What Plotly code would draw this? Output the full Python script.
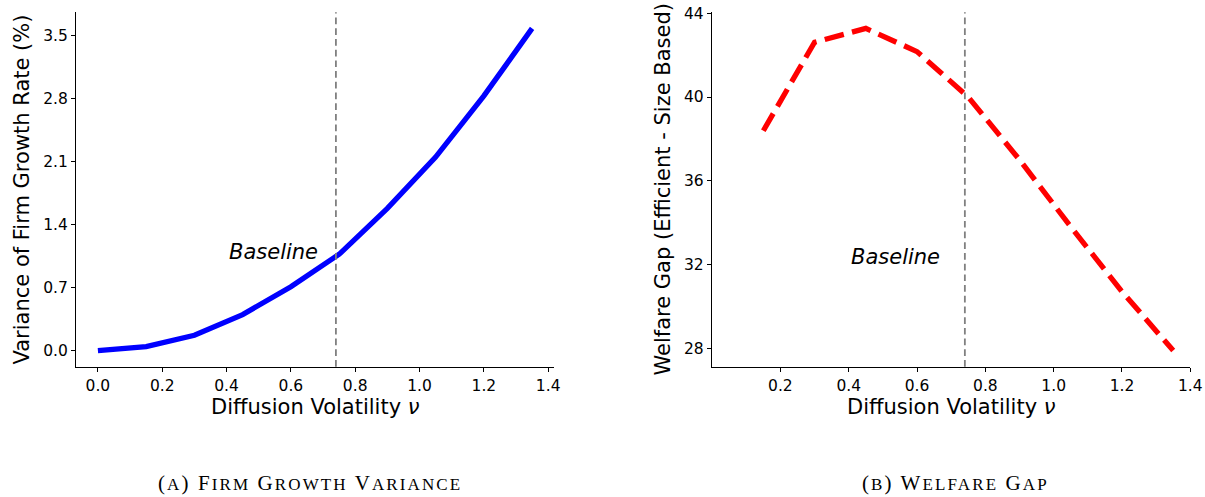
import plotly.graph_objects as go

# Diffusion volatility grid shared by both panels
nu = [0.0, 0.15, 0.30, 0.45, 0.60, 0.75, 0.90, 1.05, 1.20, 1.35]

# Panel (a): variance of firm growth rate (%)
growth_var = [0.0, 0.044, 0.17, 0.40, 0.71, 1.07, 1.58, 2.15, 2.83, 3.58]

# Panel (b): welfare gap (efficient - size based), defined from nu = 0.15 on
nu_gap = [0.15, 0.30, 0.45, 0.60, 0.75, 0.90, 1.05, 1.20, 1.35]
welfare_gap = [38.39, 42.62, 43.28, 42.17, 40.0, 37.0, 33.8, 30.7, 27.88]

baseline_nu = 0.74

left_ticks = [0.0, 0.2, 0.4, 0.6, 0.8, 1.0, 1.2, 1.4]
right_ticks = [0.2, 0.4, 0.6, 0.8, 1.0, 1.2, 1.4]
var_ticks = [0.0, 0.7, 1.4, 2.1, 2.8, 3.5]
gap_ticks = [28, 32, 36, 40, 44]

captions = ["(a) Firm Growth Variance", "(b) Welfare Gap"]

W, H = 1205, 497
TICK_FONT = dict(family="DejaVu Sans", size=15.5, color="black")
LABEL_FONT = dict(family="DejaVu Sans", size=21, color="black")
CAP_FONT = dict(family="Liberation Serif", size=21, color="black")


def small_caps(text, small=17, spacing=2.1):
    """Typeset text in small capitals: lowercase letters become reduced capitals."""
    out = []
    for ch in text:
        if ch.islower():
            out.append(f'<span style="font-size:{small}px">{ch.upper()}</span>')
        else:
            out.append(ch)
    return f'<span style="letter-spacing:{spacing}px">' + "".join(out) + "</span>"


fig = go.Figure()

fig.add_trace(go.Scatter(
    x=nu, y=growth_var, mode="lines", xaxis="x", yaxis="y",
    line=dict(color="#0000ff", width=5.3), showlegend=False,
))
fig.add_trace(go.Scatter(
    x=nu_gap, y=welfare_gap, mode="lines", xaxis="x2", yaxis="y2",
    line=dict(color="#ff0000", width=5.3, dash="19.7px,8.5px"), showlegend=False,
))

ydom = [1 - 366.7 / H, 1 - 12.3 / H]
common = dict(
    showline=True, linecolor="black", linewidth=1, mirror=False,
    ticks="outside", ticklen=4.3, tickwidth=1, tickcolor="black",
    showgrid=False, zeroline=False, tickfont=TICK_FONT, automargin=False,
)

fig.update_layout(
    width=W, height=H,
    margin=dict(l=0, r=0, t=0, b=0),
    paper_bgcolor="white", plot_bgcolor="white",
    xaxis=dict(domain=[76.2 / W, 553.8 / W], range=[-0.0675, 1.4175],
               tickvals=left_ticks, tickformat=".1f", anchor="y", **common),
    yaxis=dict(domain=ydom, range=[-0.179, 3.759],
               tickvals=var_ticks, tickformat=".1f", anchor="x", **common),
    xaxis2=dict(domain=[712.1 / W, 1190.3 / W], range=[0.0, 1.4],
                tickvals=right_ticks, tickformat=".1f", anchor="y2", **common),
    yaxis2=dict(domain=ydom, range=[27.11, 44.05],
                tickvals=gap_ticks, tickformat="d", anchor="x2", **common),
)

# Baseline markers
for xr, yr in (("x", "y domain"), ("x2", "y2 domain")):
    fig.add_shape(type="line", xref=xr, yref=yr, x0=baseline_nu, x1=baseline_nu,
                  y0=0, y1=1, line=dict(color="#808080", width=1.8, dash="6.7px,4px"))

fig.add_annotation(x=0.4, y=1.09, xref="x", yref="y", text="<i>Baseline</i>",
                   showarrow=False, xanchor="left", yanchor="middle", font=LABEL_FONT)
fig.add_annotation(x=0.4, y=32.37, xref="x2", yref="y2", text="<i>Baseline</i>",
                   showarrow=False, xanchor="left", yanchor="middle", font=LABEL_FONT)

# Axis titles
fig.add_annotation(x=0.5, y=1 - 406.7 / H, xref="x domain", yref="paper",
                   text="Diffusion Volatility <i>ν</i>", showarrow=False,
                   xanchor="center", yanchor="middle", font=LABEL_FONT)
fig.add_annotation(x=0.5, y=1 - 406.7 / H, xref="x2 domain", yref="paper",
                   text="Diffusion Volatility <i>ν</i>", showarrow=False,
                   xanchor="center", yanchor="middle", font=LABEL_FONT)
fig.add_annotation(x=22 / W, y=0.5, xref="paper", yref="y domain",
                   text="Variance of Firm Growth Rate (%)", textangle=-90,
                   showarrow=False, xanchor="center", yanchor="middle", font=LABEL_FONT)
fig.add_annotation(x=663 / W, y=0.5, xref="paper", yref="y2 domain",
                   text="Welfare Gap (Efficient - Size Based)", textangle=-90,
                   showarrow=False, xanchor="center", yanchor="middle", font=LABEL_FONT)

# Panel captions
for cx, cap in zip((310, 955), captions):
    fig.add_annotation(x=cx / W, y=1 - 483 / H, xref="paper", yref="paper",
                       text=small_caps(cap), showarrow=False,
                       xanchor="center", yanchor="middle", font=CAP_FONT)

fig.write_html("out.html")
